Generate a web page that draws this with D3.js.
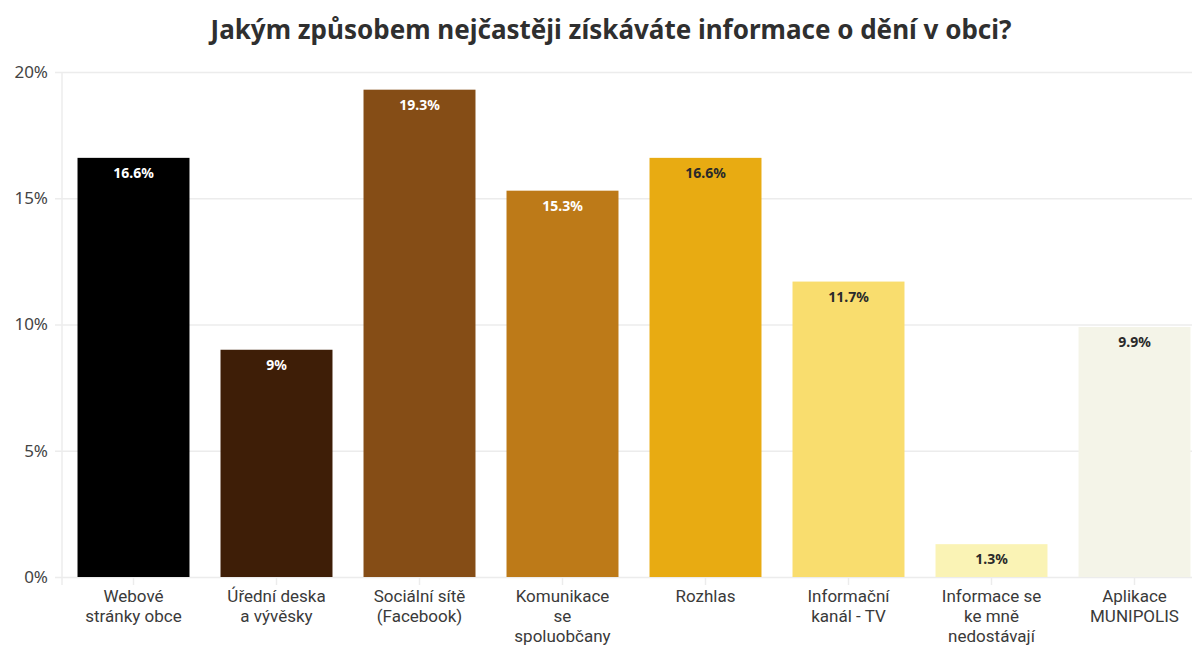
<!DOCTYPE html>
<html>
<head>
<meta charset="utf-8">
<script src="https://cdn.jsdelivr.net/npm/d3@7"></script>
<style>
  html, body { margin: 0; padding: 0; background: #fff; }
  svg { display: block; font-family: "Noto Sans", "Open Sans", sans-serif; }
</style>
</head>
<body>
<svg id="chart" width="1192" height="646"></svg>
<script>
const title = "Jakým způsobem nejčastěji získáváte informace o dění v obci?";
const categories = [
  ["Webové", "stránky obce"],
  ["Úřední deska", "a vývěsky"],
  ["Sociální sítě", "(Facebook)"],
  ["Komunikace", "se", "spoluobčany"],
  ["Rozhlas"],
  ["Informační", "kanál - TV"],
  ["Informace se", "ke mně", "nedostávají"],
  ["Aplikace", "MUNIPOLIS"]
];
const values = [16.6, 9, 19.3, 15.3, 16.6, 11.7, 1.3, 9.9];
const valueLabels = ["16.6%", "9%", "19.3%", "15.3%", "16.6%", "11.7%", "1.3%", "9.9%"];
const barColors = ["#000000", "#3e1e07", "#854d16", "#bd7a18", "#e8ab12", "#f9dd6e", "#faf3b5", "#f4f4e8"];
const labelColors = ["#ffffff", "#ffffff", "#ffffff", "#ffffff", "#2a2a2a", "#2a2a2a", "#2a2a2a", "#2a2a2a"];
const yTicks = [0, 5, 10, 15, 20];

const svg = d3.select("#chart");
const plotLeft = 62, plotRight = 1206, plotTop = 72, plotBottom = 577;

const x = d3.scaleBand()
  .domain(d3.range(values.length))
  .range([plotLeft, plotRight])
  .paddingInner(0.217)
  .paddingOuter(0.1085);

const y = d3.scaleLinear().domain([0, 20]).range([plotBottom, plotTop]);

// title
svg.append("text")
  .attr("x", 611).attr("y", 39)
  .attr("text-anchor", "middle")
  .attr("font-size", 26).attr("font-weight", 700)
  .attr("fill", "#2f2f2f")
  .text(title);

// horizontal gridlines and y ticks
const yAxis = d3.axisLeft(y)
  .tickValues(yTicks)
  .tickFormat(d => d + "%")
  .tickSize(-(1192 - plotLeft))
  .tickPadding(14);

const gy = svg.append("g").attr("transform", `translate(${plotLeft},0)`).call(yAxis);
gy.select(".domain").remove();
gy.selectAll(".tick line").attr("stroke", "#ececec").attr("stroke-width", 1.5).attr("x1", -7);
gy.selectAll(".tick text")
  .attr("font-size", 17).attr("fill", "#444").attr("x", -14)
  .attr("font-family", "\"Noto Sans\", sans-serif");

// vertical axis line
svg.append("line")
  .attr("x1", plotLeft).attr("x2", plotLeft)
  .attr("y1", plotTop).attr("y2", plotBottom + 8)
  .attr("stroke", "#ececec").attr("stroke-width", 1.5);

// x ticks
const xAxis = d3.axisBottom(x).tickSize(8).tickFormat(() => "");
const gx = svg.append("g").attr("transform", `translate(0,${plotBottom})`).call(xAxis);
gx.select(".domain").remove();
gx.selectAll(".tick line").attr("stroke", "#ececec").attr("stroke-width", 1.5);

// bars
svg.append("g").selectAll("rect")
  .data(values)
  .join("rect")
  .attr("x", (d, i) => x(i))
  .attr("y", d => y(d))
  .attr("width", x.bandwidth())
  .attr("height", d => y(0) - y(d))
  .attr("fill", (d, i) => barColors[i]);

// value labels
svg.append("g").selectAll("text")
  .data(values)
  .join("text")
  .attr("x", (d, i) => x(i) + x.bandwidth() / 2)
  .attr("y", d => y(d) + 20)
  .attr("text-anchor", "middle")
  .attr("font-size", 14).attr("font-weight", 700)
  .attr("fill", (d, i) => labelColors[i])
  .text((d, i) => valueLabels[i]);

// category labels, one text element per line
const catLines = categories.flatMap((lines, i) => lines.map((t, j) => ({ i, j, t })));
svg.append("g").selectAll("text")
  .data(catLines)
  .join("text")
  .attr("x", d => x(d.i) + x.bandwidth() / 2)
  .attr("y", d => 602 + d.j * 20)
  .attr("text-anchor", "middle")
  .attr("font-family", "Roboto, sans-serif")
  .attr("font-size", 17)
  .attr("fill", "#3a3a3a")
  .text(d => d.t);
</script>
</body>
</html>
